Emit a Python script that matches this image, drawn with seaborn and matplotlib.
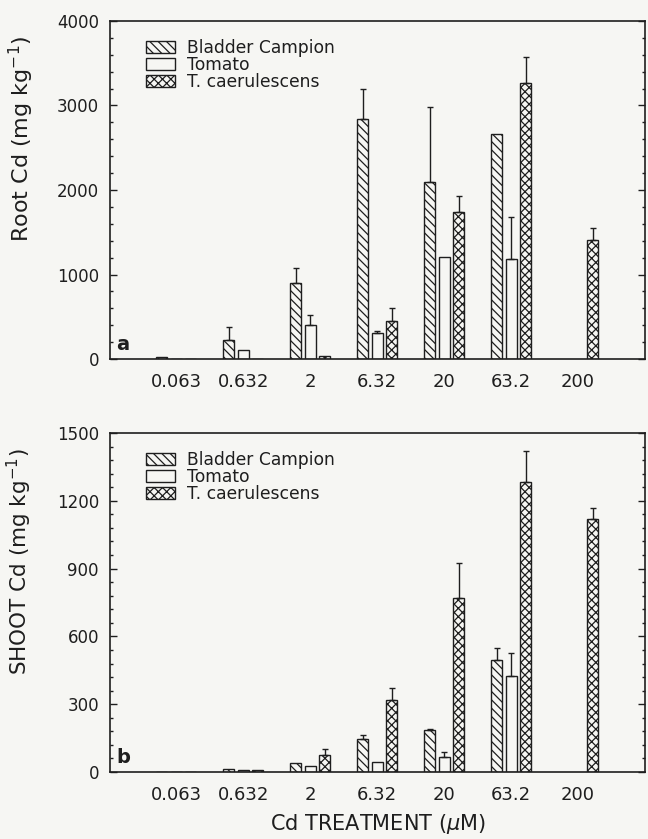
import numpy as np
import pandas as pd
import matplotlib
matplotlib.use("Agg")
import matplotlib.pyplot as plt
from matplotlib.patches import Patch
from matplotlib.container import BarContainer
from matplotlib.ticker import AutoMinorLocator, MultipleLocator
import seaborn as sns

# ---------------- data ----------------
categories = ["0.063", "0.632", "2", "6.32", "20", "63.2", "200"]
species = ["Bladder Campion", "Tomato", "T. caerulescens"]

root_bladder = [20, 225, 900, 2840, 2095, 2660, np.nan]
root_bladder_err = [0, 155, 175, 355, 890, 0, np.nan]
root_tomato = [0, 105, 400, 305, 1210, 1180, np.nan]
root_tomato_err = [0, 0, 120, 25, 0, 500, np.nan]
root_tc = [5, 5, 30, 450, 1740, 3265, 1410]
root_tc_err = [0, 0, 0, 150, 190, 310, 140]

shoot_bladder = [2, 12, 40, 145, 185, 495, np.nan]
shoot_bladder_err = [0, 0, 0, 20, 5, 55, np.nan]
shoot_tomato = [0, 10, 25, 45, 68, 425, np.nan]
shoot_tomato_err = [0, 0, 0, 0, 22, 100, np.nan]
shoot_tc = [0, 10, 75, 320, 770, 1283, 1120]
shoot_tc_err = [0, 0, 25, 50, 155, 137, 50]

bg = "#f6f6f3"
ink = "#1e1e1e"
hatches = ["\\\\\\\\", "", "xxxx"]

sns.set_style("ticks")
plt.rcParams["font.family"] = ["DejaVu Sans"]
plt.rcParams["hatch.linewidth"] = 0.9
plt.rcParams["hatch.color"] = ink
plt.rcParams["text.color"] = ink
plt.rcParams["axes.edgecolor"] = ink
plt.rcParams["xtick.color"] = ink
plt.rcParams["ytick.color"] = ink
plt.rcParams["axes.labelcolor"] = ink


def make_df(vals):
    rows = []
    for sp, arr in zip(species, vals):
        for c, v in zip(categories, arr):
            if not np.isnan(v):
                rows.append({"dose": c, "species": sp, "value": v})
    return pd.DataFrame(rows)


def draw_panel(ax, vals, errs, ymax, ystep, ylabel, label_x, label_y, label_fs,
               letter, xlabel=None):
    df = make_df(vals)
    sns.barplot(data=df, x="dose", y="value", hue="species", order=categories,
                hue_order=species, palette={s: bg for s in species}, saturation=1,
                width=0.65, gap=0.24, edgecolor=ink, linewidth=1.0,
                errorbar=None, legend=False, ax=ax)
    bar_conts = [c for c in ax.containers if isinstance(c, BarContainer)]
    for i, cont in enumerate(bar_conts):
        for p in cont.patches:
            p.set_hatch(hatches[i])
            xc = p.get_x() + p.get_width() / 2
            idx = int(round(xc))
            e = errs[i][idx]
            h = p.get_height()
            if e and not np.isnan(e) and e > 0:
                ax.errorbar([xc], [h], yerr=[[0], [e]], fmt="none", ecolor=ink,
                            elinewidth=1.0, capsize=2.5, capthick=1.0)
    ax.set_xlim(-0.99, 7.0)
    ax.set_ylim(0, ymax)
    ax.yaxis.set_major_locator(MultipleLocator(ystep))
    ax.yaxis.set_minor_locator(AutoMinorLocator(5))
    ax.tick_params(axis="y", which="both", direction="in", left=True, right=True,
                   labelright=False, labelsize=12, width=1.0)
    ax.tick_params(axis="y", which="major", length=5, pad=8)
    ax.tick_params(axis="y", which="minor", length=2.5)
    ax.tick_params(axis="x", which="both", bottom=False, top=False, length=0,
                   labelsize=13, pad=10)
    for s in ax.spines.values():
        s.set_visible(True)
        s.set_linewidth(1.2)
    ax.set_facecolor(bg)
    ax.set_ylabel(ylabel, fontsize=label_fs)
    ax.yaxis.set_label_coords(label_x, label_y)
    ax.set_xlabel(xlabel if xlabel else "", fontsize=15, labelpad=6)
    ax.text(0.012, 0.015, letter, transform=ax.transAxes, fontsize=14,
            fontweight="bold", ha="left", va="bottom")
    handles = [Patch(facecolor=bg, edgecolor=ink, hatch=h, linewidth=1.0) for h in hatches]
    ax.legend(handles, species, loc="upper left", bbox_to_anchor=(0.068, 0.948),
              frameon=False, fontsize=12.3, handlelength=1.7, handleheight=0.7,
              handletextpad=0.65, labelspacing=-0.06, borderpad=0, borderaxespad=0)


fig = plt.figure(figsize=(6.48, 8.39), dpi=100, facecolor=bg)
ax1 = fig.add_axes([110 / 648, 1 - 359 / 839, 535 / 648, 338 / 839])
ax2 = fig.add_axes([110 / 648, 1 - 772 / 839, 535 / 648, 339 / 839])

draw_panel(ax1, [root_bladder, root_tomato, root_tc],
           [root_bladder_err, root_tomato_err, root_tc_err],
           4000, 1000, r"Root Cd (mg kg$^{-1}$)", -0.138, 0.65, 16, "a")
draw_panel(ax2, [shoot_bladder, shoot_tomato, shoot_tc],
           [shoot_bladder_err, shoot_tomato_err, shoot_tc_err],
           1500, 300, r"SHOOT Cd (mg kg$^{-1}$)", -0.142, 0.62, 15.5, "b",
           xlabel=r"Cd TREATMENT ($\mu$M)")

fig.savefig("out.png", dpi=100, facecolor=bg)
